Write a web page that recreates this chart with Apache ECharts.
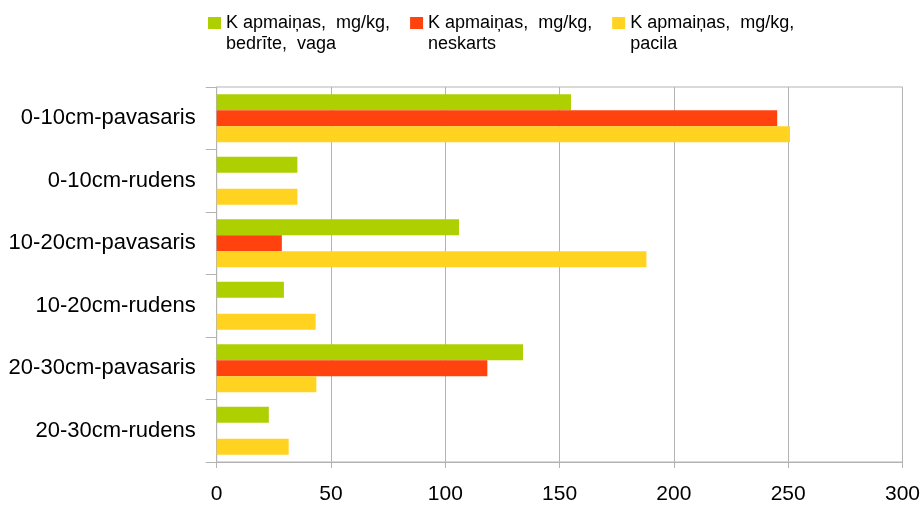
<!DOCTYPE html>
<html>
<head>
<meta charset="utf-8">
<script src="https://cdn.jsdelivr.net/npm/echarts@6/dist/echarts.min.js"></script>
<style>
  html, body { margin: 0; padding: 0; background: #ffffff; }
  #chart { width: 923px; height: 505px; }
</style>
</head>
<body>
<div id="chart"></div>
<script>
// Soil depth / season groups, listed top to bottom
const categories = [
  '0-10cm-pavasaris',
  '0-10cm-rudens',
  '10-20cm-pavasaris',
  '10-20cm-rudens',
  '20-30cm-pavasaris',
  '20-30cm-rudens'
];

// K change, mg/kg, per tillage variant (null = no measurement)
const bedriteVaga = [155, 35.3, 106, 29.4, 134, 22.8];
const neskarts    = [245.2, null, 28.5, null, 118.4, null];
const pacila      = [250.8, 35.3, 188, 43.3, 43.6, 31.5];

const seriesNames = [
  'K apmaiņas,  mg/kg,\nbedrīte,  vaga',
  'K apmaiņas,  mg/kg,\nneskarts',
  'K apmaiņas,  mg/kg,\npacila'
];
const seriesColors = ['#aecf00', '#ff420e', '#ffd320'];
const seriesData = [bedriteVaga, neskarts, pacila];

const xTicks = { min: 0, max: 300, step: 50 };

const font = '"Liberation Sans", Arial, sans-serif';
const gridColor = '#b3b3b3';

const chart = echarts.init(document.getElementById('chart'), null, { renderer: 'canvas' });

chart.setOption({
  animation: false,
  backgroundColor: '#ffffff',
  legend: {
    top: -8.5,
    left: 208,
    padding: 0,
    itemGap: 20,
    itemWidth: 13,
    itemHeight: 12,
    icon: 'rect',
    // leading blank line keeps the swatch level with the first text line
    formatter: name => '\n' + name,
    textStyle: {
      fontFamily: font,
      fontSize: 18,
      color: '#000000',
      lineHeight: 21
    },
    data: seriesNames
  },
  grid: {
    left: 216.7,
    right: 18,
    top: 87,
    bottom: 42,
    show: true,
    borderColor: gridColor,
    borderWidth: 1
  },
  xAxis: {
    type: 'value',
    min: xTicks.min,
    max: xTicks.max,
    interval: xTicks.step,
    axisLine: { show: true, lineStyle: { color: gridColor } },
    axisTick: { show: true, length: 6, lineStyle: { color: gridColor } },
    splitLine: { show: true, lineStyle: { color: gridColor } },
    axisLabel: {
      fontFamily: font,
      fontSize: 21,
      color: '#000000',
      margin: 22
    }
  },
  yAxis: {
    type: 'category',
    inverse: true,
    data: categories,
    axisLine: { show: true, lineStyle: { color: gridColor } },
    axisTick: { show: true, length: 11, lineStyle: { color: gridColor } },
    splitLine: { show: false },
    axisLabel: {
      fontFamily: font,
      fontSize: 22,
      color: '#000000',
      margin: 21
    }
  },
  series: seriesData.map((d, i) => ({
    name: seriesNames[i],
    type: 'bar',
    data: d,
    barWidth: 16,
    barGap: '0%',
    itemStyle: { color: seriesColors[i] }
  }))
});
</script>
</body>
</html>
